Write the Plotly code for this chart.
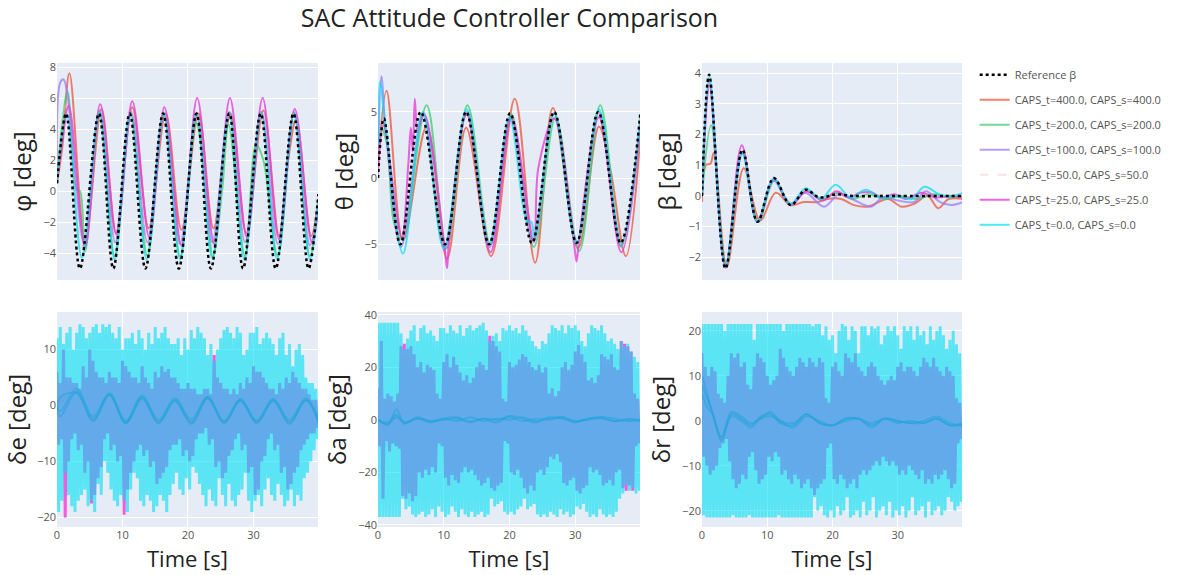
import plotly.graph_objects as go
from plotly.subplots import make_subplots

# ---------------- names / styles ----------------
keys = ["ref", "400", "200", "100", "50", "25", "0"]
names = {"ref": "Reference β",
         "400": "CAPS_t=400.0, CAPS_s=400.0",
         "200": "CAPS_t=200.0, CAPS_s=200.0",
         "100": "CAPS_t=100.0, CAPS_s=100.0",
         "50": "CAPS_t=50.0, CAPS_s=50.0",
         "25": "CAPS_t=25.0, CAPS_s=25.0",
         "0": "CAPS_t=0.0, CAPS_s=0.0"}
colors = {"ref": "#000000", "400": "#EF553B", "200": "#3CD070", "100": "#9B7CF5",
          "50": "#F2B8B8", "25": "#EA3FDA", "0": "#00E0F4"}
bottom_colors = {"400": "#3C3CAA", "200": "#3C50A0", "100": "#4A3CB4", "50": "#7070B0",
                 "25": "#F859DD", "0": "#00E0F4"}

# ---------------- top row: phi ----------------
phi_ref_t = [0, 1.4, 3.5, 6.4, 8.6, 11.1, 13.5, 16.2, 18.6, 21.3, 23.5, 26.3, 28.4, 31.1, 33.4, 36.1, 38.4, 39.9]
phi_ref_v = [0.5, 5.0, -5.0, 5.0, -5.0, 5.0, -5.0, 5.0, -5.0, 5.0, -5.0, 5.0, -5.0, 5.0, -5.0, 5.0, -5.0, -0.2]
phi_400_t = [0, 0.8, 1.9, 4.3, 6.8, 9.0, 11.5, 14.0, 16.6, 19.0, 21.6, 23.9, 26.5, 28.9, 31.5, 33.9, 35.3, 36.5, 38.8, 39.9]
phi_400_v = [0.5, 2.8, 7.6, -3.3, 5.3, -2.7, 5.4, -2.4, 5.0, -2.5, 5.0, -2.4, 5.0, -2.7, 5.2, -2.9, 2.0, 4.6, -2.9, -0.5]
phi_200_t = [0, 0.8, 1.6, 3.1, 3.5, 4.3, 6.5, 8.8, 11.3, 13.8, 16.3, 18.8, 21.2, 22.2, 23.8, 25.2, 26.2, 28.7, 30.4, 31.5, 33.7, 36.2, 38.6, 39.9]
phi_200_v = [0.7, 4.3, 6.4, 0.0, 0.0, -3.9, 5.0, -4.2, 5.0, -4.2, 5.0, -4.2, 4.4, 2.5, -4.2, 0.0, 4.3, -4.2, 3.0, 2.0, -4.2, 5.0, -4.2, -0.6]
phi_100_t = [0, 0.5, 1.0, 1.5, 4.2, 6.5, 8.9, 11.3, 13.8, 16.3, 18.8, 21.3, 23.7, 26.3, 28.7, 31.2, 33.7, 36.2, 38.6, 39.9]
phi_100_v = [0.7, 7.0, 7.2, 6.5, -3.5, 5.2, -3.3, 5.1, -3.3, 5.0, -3.4, 5.0, -3.3, 5.1, -3.3, 5.1, -3.4, 5.1, -3.5, -0.8]
phi_50_t = [0, 1.3, 4.1, 6.5, 8.9, 11.3, 13.8, 16.3, 18.8, 21.3, 23.7, 26.3, 28.7, 31.2, 33.7, 36.2, 38.6, 39.9]
phi_50_v = [0.6, 5.5, -3.8, 5.1, -3.6, 5.0, -3.6, 5.0, -3.7, 5.1, -3.6, 5.0, -3.6, 5.0, -3.7, 5.0, -3.7, -0.7]
phi_25_t = [0, 0.7, 1.8, 4.3, 6.6, 9.1, 11.5, 14.1, 16.4, 19.0, 21.4, 24.0, 26.4, 29.0, 31.4, 33.9, 36.3, 38.9, 39.9]
phi_25_v = [0.7, 2.9, 5.5, -3.6, 5.6, -2.8, 5.8, -3.0, 5.4, -3.5, 6.0, -3.4, 6.0, -3.0, 6.0, -3.1, 5.3, -3.3, -1.2]
phi_0_t = [0, 1.5, 3.8, 6.5, 8.8, 11.2, 13.7, 16.3, 18.8, 21.3, 23.7, 26.3, 28.6, 31.2, 33.6, 36.2, 38.6, 39.9]
phi_0_v = [0.7, 4.9, -4.3, 5.1, -4.4, 5.0, -4.4, 5.0, -4.4, 5.0, -4.3, 5.0, -4.4, 5.0, -4.4, 5.0, -4.4, -0.6]

# ---------------- top row: theta ----------------
th_ref_t = [0, 0.9, 3.4, 6.5, 10.2, 13.4, 16.9, 20.1, 23.4, 26.8, 30.2, 33.5, 36.9, 39.9]
th_ref_v = [0.0, 4.5, -5.0, 5.0, -5.0, 5.0, -5.0, 4.9, -4.9, 5.0, -4.9, 5.0, -4.9, 4.9]
th_400_t = [0, 1.3, 3.8, 7.4, 10.5, 13.4, 17.2, 20.8, 23.9, 26.6, 30.4, 33.6, 35.4, 37.7, 39.9]
th_400_v = [1.0, 6.6, -4.7, 3.9, -6.1, 3.8, -5.9, 6.0, -6.4, 5.3, -5.3, 3.9, 0.5, -5.9, 3.2]
th_200_t = [0, 0.5, 1.4, 2.4, 3.6, 7.4, 10.4, 13.6, 17.1, 20.3, 23.7, 27.0, 30.6, 33.8, 37.0, 39.9]
th_200_v = [2.0, 3.8, 2.5, -3.3, -4.6, 5.5, -5.3, 5.5, -5.0, 4.8, -5.2, 4.6, -5.5, 5.5, -5.2, 4.6]
th_100_t = [0, 0.5, 1.2, 3.5, 6.9, 10.1, 13.5, 17.0, 20.2, 23.6, 26.8, 30.3, 33.6, 36.9, 39.9]
th_100_v = [0.0, 7.7, 3.5, -5.2, 4.9, -5.4, 5.0, -5.2, 4.6, -4.8, 4.9, -4.8, 5.0, -5.1, 4.3]
th_50_t = [0, 0.8, 3.5, 6.8, 10.2, 13.5, 17.0, 20.2, 23.6, 26.8, 30.3, 33.6, 37.0, 39.9]
th_50_v = [0.5, 4.8, -5.0, 4.9, -5.1, 5.0, -5.1, 4.7, -4.9, 4.9, -4.9, 5.0, -5.0, 4.4]
th_25_t = [0, 0.8, 3.6, 4.6, 5.0, 5.3, 5.6, 6.0, 6.6, 7.1, 10.2, 10.5, 10.8, 13.5, 17.1, 20.3, 23.7, 24.4, 26.8, 29.9, 30.2, 30.6, 33.6, 37.0, 39.9]
th_25_v = [0.5, 4.0, -4.5, 1.0, 3.8, 2.0, 6.0, 3.5, 4.5, 4.8, -5.5, -6.8, -4.8, 4.8, -5.6, 4.5, -4.8, 0.8, 4.5, -5.3, -6.3, -4.6, 4.6, -5.6, 4.0]
th_0_t = [0, 0.3, 1.1, 3.8, 6.8, 10.0, 13.5, 16.9, 20.0, 22.7, 23.3, 23.8, 26.8, 30.2, 33.6, 37.0, 39.9]
th_0_v = [2.5, 7.3, 4.0, -5.7, 5.0, -5.3, 5.2, -5.0, 4.6, -3.3, -3.3, -4.5, 4.9, -4.9, 5.2, -4.9, 4.2]

# ---------------- top row: beta ----------------
be_ref_t = [0, 1.1, 3.6, 6.2, 8.5, 11.0, 13.6, 15.9, 18.0, 20.5, 23.0, 30.0, 40.0]
be_ref_v = [0.0, 3.95, -2.36, 1.5, -0.84, 0.58, -0.3, 0.2, -0.05, 0.05, 0.0, 0.0, 0.0]
be_400_t = [0, 0.6, 1.3, 1.8, 3.8, 6.4, 8.9, 11.3, 13.6, 15.6, 17.7, 19.2, 21.3, 23.3, 25.4, 28.5, 30.6, 32.6, 34.6, 36.2, 37.8, 40]
be_400_v = [-0.2, 1.0, 1.05, 1.4, -2.3, 0.9, -0.8, 0.1, -0.3, -0.2, -0.2, -0.1, -0.1, -0.3, -0.35, -0.1, -0.35, -0.25, 0.0, -0.4, -0.1, -0.1]
be_200_t = [0, 1.4, 3.7, 6.2, 8.6, 11.1, 13.6, 16.0, 18.4, 20.8, 23.0, 25.4, 28.0, 30.5, 33.0, 35.5, 38.0, 40]
be_200_v = [0.0, 2.3, -2.3, 1.45, -0.85, 0.5, -0.25, 0.15, -0.1, 0.1, -0.1, 0.05, -0.1, 0.0, -0.1, 0.05, -0.05, 0.0]
be_100_t = [0, 1.1, 3.6, 6.2, 8.5, 11.0, 13.5, 15.8, 18.7, 21.0, 23.0, 25.9, 27.7, 30.0, 32.5, 34.3, 36.5, 38.2, 40]
be_100_v = [0.0, 3.7, -2.3, 1.4, -0.85, 0.5, -0.3, 0.1, -0.35, 0.05, -0.1, -0.35, -0.05, -0.15, -0.2, 0.15, -0.2, -0.3, -0.2]
be_50_t = [0, 1.1, 3.6, 6.2, 8.5, 11.0, 13.6, 16.0, 18.5, 21.0, 24.0, 28.0, 32.0, 36.0, 40]
be_50_v = [0.0, 3.8, -2.3, 1.45, -0.85, 0.55, -0.3, 0.15, -0.1, 0.05, -0.05, 0.05, -0.05, 0.0, 0.0]
be_25_t = [0, 1.2, 3.6, 6.1, 8.5, 11.0, 13.6, 16.0, 18.5, 20.6, 22.5, 24.2, 25.9, 27.5, 29.5, 31.2, 33.6, 35.8, 38.0, 40]
be_25_v = [0.0, 3.6, -2.35, 1.65, -0.85, 0.55, -0.3, 0.15, -0.15, 0.15, -0.05, 0.1, 0.12, -0.05, 0.05, -0.1, 0.1, -0.05, 0.0, -0.05]
be_0_t = [0, 1.13, 3.59, 6.15, 8.46, 11.0, 13.5, 15.9, 18.2, 20.5, 22.8, 25.1, 27.4, 29.7, 32.1, 34.1, 36.4, 38.2, 40]
be_0_v = [0.0, 3.9, -2.3, 1.4, -0.85, 0.55, -0.28, 0.25, -0.1, 0.36, -0.05, 0.2, -0.05, 0.0, -0.1, 0.3, 0.05, 0.0, 0.1]

# ---------------- bottom row: envelopes of the noisy actuator signals (every 0.5 s) ----------------
ENV_STEP = 0.5
de_0_hi = [12, 14, 11, 13, 14, 10, 13, 14.5, 14, 12,
           13, 14, 14.5, 13, 14.5, 14, 14.5, 13, 12, 14,
           10, 12, 12, 13, 11, 13.5, 12, 10, 13, 11,
           14, 12, 13, 14, 12, 11, 11, 12, 9, 12,
           10, 13.5, 12, 14, 13, 12, 9, 11, 8, 10,
           12, 13.5, 14, 13, 12, 14, 13, 9, 10, 13,
           13, 14, 11, 12, 13, 12, 11, 9, 12, 13,
           9, 11, 7, 10, 11, 9, 5, 4, 4, 3]
de_0_lo = [-19, -17, -12, -16, -18, -19, -17, -16, -15, -18,
           -17, -19, -14, -16, -10, -12, -15, -17, -18, -16,
           -17, -19, -15, -12, -13, -17, -18, -16, -17, -19,
           -18, -16, -17, -19, -16, -14, -12, -15, -16, -13,
           -15, -11, -12, -14, -16, -18, -15, -17, -18, -13,
           -16, -18, -14, -17, -18, -16, -15, -12, -17, -19,
           -17, -16, -18, -15, -13, -16, -17, -14, -16, -18,
           -17, -15, -18, -16, -17, -13, -12, -10, -8, -6]
de_25_hi = [6, 4, 10, 5, 5, 4, 4, 3, 7, 5,
            10, 8, 6, 5, 5, 4, 6, 5, 5, 4,
            8, 7, 6, 5, 5, 4, 7, 5, 4, 3,
            6, 5, 7, 6, 6.5, 5, 5, 4, 3, 3,
            4, 3, 3, 2, 2, 3, 3, 2, 9, 5,
            4, 3, 3, 2, 3, 2, 4, 3, 5, 4,
            7, 6, 6, 5, 4, 3, 3, 2, 4, 3,
            5, 4, 6, 5, 4, 3, 3, 2, 1, 1]
de_25_lo = [-7, -6, -20, -10, -6, -5, -8, -7, -12, -10,
            -17.5, -16, -13, -11, -6, -5, -8, -7, -10, -9,
            -19.5, -15, -12, -10, -8, -7, -9, -8, -11, -10,
            -14, -13, -12, -11, -8, -7, -7, -6, -9, -8,
            -10, -9, -6, -5, -5, -4, -7, -6, -11, -10,
            -13, -12, -9, -8, -6, -5, -8, -7, -12, -11,
            -16, -15, -10, -9, -6, -5, -8, -7, -12, -11,
            -15, -14, -12, -11, -8, -7, -6, -5, -5, -4]

da_0_hi = [37, 37, 37, 37, 37, 37, 37, 33, 27, 31,
           34, 36, 30, 35, 36, 33, 34, 32, 30, 35,
           35, 33, 36, 34, 33, 36, 32, 35, 36, 34,
           35, 36, 37, 34, 30, 32, 33, 30, 35, 34,
           36, 34, 35, 33, 36, 34, 32, 30, 28, 27,
           30, 29, 33, 36, 35, 34, 36, 33, 36, 35,
           36, 34, 30, 28, 33, 36, 35, 34, 36, 33,
           30, 31, 29, 27, 30, 28, 29, 26, 24, 22]
da_0_lo = [-37, -37, -37, -37, -37, -37, -37, -30, -34, -33,
           -36, -37, -36, -35, -37, -36, -34, -37, -33, -35,
           -37, -36, -33, -35, -37, -34, -36, -37, -35, -37,
           -36, -35, -37, -36, -30, -33, -32, -31, -35, -36,
           -35, -36, -34, -33, -30, -34, -33, -32, -36, -37,
           -36, -37, -35, -36, -37, -34, -36, -35, -37, -36,
           -33, -34, -32, -35, -37, -36, -37, -34, -36, -37,
           -36, -37, -35, -30, -28, -25, -27, -26, -28, -27]
da_25_hi = [12, 30, 8, 10, 9, 7, 10, 28, 29, 27,
            28, 25, 20, 22, 18, 21, 20, 19, 10, 8,
            22, 25, 20, 24, 21, 18, 15, 17, 14, 16,
            20, 22, 21, 19, 32, 30, 28, 26, 8, 7,
            22, 20, 21, 23, 25, 24, 22, 20, 19, 21,
            18, 20, 10, 12, 9, 11, 20, 22, 19, 21,
            26, 28.5, 25, 22, 15, 16, 14, 17, 25, 24,
            23, 25, 20, 19, 30, 29, 28, 26, 10, 8]
da_25_lo = [-10, -30, -8, -12, -9, -10, -11, -29, -30, -28,
            -31, -29, -20, -22, -19, -21, -18, -20, -9, -10,
            -22, -25, -21, -23, -24, -20, -18, -20, -19, -21,
            -23, -25, -24, -22, -26, -27, -25, -24, -8, -9,
            -20, -21, -19, -22, -26, -28, -25, -27, -20, -19,
            -21, -18, -14, -15, -13, -16, -24, -25, -23, -22,
            -27, -28, -26, -25, -18, -20, -19, -21, -25, -24,
            -23, -25, -20, -19, -26, -27, -25, -27, -10, -9]

dr_0_hi = [21.5, 21.5, 21.5, 21.5, 21.5, 21.5, 21.5, 20, 21.5, 21.5,
           21.5, 21.5, 21.5, 21.5, 21.5, 21.5, 18, 21.5, 21.5, 21.5,
           21.5, 21.5, 21.5, 21.5, 21.5, 20, 21.5, 21.5, 21.5, 21.5,
           21.5, 21.5, 21.5, 21.5, 21, 21.5, 21.5, 19, 21, 18,
           19, 15, 20, 21.5, 21, 18, 21, 20, 15, 21,
           21, 19, 21, 20.5, 21, 17, 19, 21, 20, 21,
           19, 16, 21, 20, 21, 18, 21, 19, 20, 17,
           21, 18, 20, 21, 19, 16, 18, 20, 17, 15]
dr_0_lo = [-21, -21.5, -21.5, -21.5, -21.5, -21.5, -21.5, -21.5, -21.5, -21,
           -21.5, -21.5, -21.5, -21.5, -21, -21.5, -21.5, -21.5, -21.5, -21.5,
           -21.5, -21.5, -21.5, -21, -21.5, -21.5, -21.5, -21.5, -21.5, -21.5,
           -21.5, -21.5, -21.5, -21.5, -17, -20, -19, -21, -21.5, -20,
           -21.5, -19, -21, -20, -17, -21.5, -21, -20, -21.5, -18,
           -21, -20, -17, -21.5, -20, -19, -21, -18, -21.5, -20,
           -21, -19, -21.5, -20, -17, -21, -20, -19, -21.5, -18,
           -21, -20, -19, -21, -20, -17, -18, -20, -19, -18]
dr_25_hi = [15, 12, 10, 12, 11, 6, 5, 4, 10, 15,
            14, 15, 12, 13, 8, 7, 12, 15, 14, 13,
            10, 8, 9, 10, 16, 14, 12, 11, 10, 12,
            14, 13, 12, 14, 13, 12, 14, 13, 5, 4,
            12, 13, 11, 10, 15, 14, 13, 15, 12, 11,
            10, 12, 13, 12, 10, 9, 8, 9, 10, 9,
            12, 13, 11, 12, 12, 11, 10, 12, 14, 13,
            12, 14, 12, 11, 10, 12, 11, 10, 5, 4]
dr_25_lo = [-8, -10, -12, -11, -10, -6, -5, -4, -9, -13,
            -15, -14, -12, -13, -8, -7, -11, -14, -13, -12,
            -8, -9, -7, -8, -12, -11, -13, -14, -12, -13,
            -15, -14, -13, -15, -16.5, -15, -14, -13, -6, -5,
            -13, -14, -12, -13, -15, -14, -13, -15, -12, -11,
            -12, -11, -10, -9, -10, -8, -9, -10, -9, -10,
            -12, -11, -12, -10, -11, -12, -13, -11, -14, -13,
            -14, -12, -13, -12, -11, -13, -15, -14, -5, -4]

# smooth (low-noise) actuator traces
de_s_t = [0, 0.5, 3, 5.5, 8, 10.5, 13, 15.5, 18, 20.5, 23, 25.5, 28, 30.5, 33, 35.5, 38, 40]
de_400_v = [0, -2, 2.5, -2.5, 2.0, -3.0, 1.5, -3.0, 1.0, -3.0, 1.5, -3.0, 1.0, -3.0, 1.0, -3.0, 1.0, -3.0]
de_200_v = [0, -1, 3.0, -2.0, 2.2, -2.8, 1.8, -2.6, 1.3, -2.5, 1.6, -2.8, 1.2, -2.7, 1.2, -2.6, 1.3, -2.5]
de_100_v = [-1, 1.5, 2.2, -2.8, 1.8, -3.2, 1.2, -3.2, 0.8, -3.3, 1.2, -3.2, 0.8, -3.2, 0.8, -3.3, 0.9, -3.3]
de_50_v = [0, 1, 2.0, -2.0, 1.8, -2.5, 1.5, -2.5, 1.0, -2.5, 1.2, -2.5, 1.0, -2.5, 1.0, -2.5, 1.0, -2.5]
da_s_t = [0, 1.5, 2.8, 4, 6, 8, 10, 12, 14, 16, 18, 20, 22, 24, 26, 28, 30, 32, 34, 36, 38, 40]
da_400_v = [0, -1.5, 1, -1, 0.5, -1, 0.5, 1, -0.5, 0.5, -1, 1.5, 0.5, -1, 1, 0.5, -1, 0.5, 1, -0.5, 0.5, 0]
da_200_v = [0, -2, 4, -1, 0.5, -0.5, 0.5, -0.5, 1, -0.5, 0.5, 0, 1, -0.5, 0.5, 1, -0.5, 0, 1, 0.5, -0.5, 0]
da_100_v = [0, -1, 2, -1.5, 1, -0.5, 0, 0.5, -1, 0.5, 0, 1, -0.5, 0.5, 0, 1, -0.5, 0.5, 0.5, -0.5, 0, -0.5]
da_50_v = [0, -1, 1.5, -1, 0.5, -0.5, 0.5, 0.5, -0.5, 0.5, -0.5, 1, 0.5, -0.5, 0.5, 0.5, -0.5, 0.5, 0.5, 0, 0, 0]
dr_s_t = [0, 0.8, 1.6, 3.0, 4.5, 6, 7.5, 9, 10.5, 12, 14, 16, 18, 20, 22, 24, 26, 28, 30, 32, 34, 36, 38, 40]
dr_400_v = [8, 5, 2, -4.5, 1.5, 0.5, -1, 1, 1.5, -0.5, -1, 1.5, -0.5, -1, 0, 0.5, -1, 0.5, -0.5, 0, -0.5, 0.5, -1, -0.5]
dr_200_v = [6, 3, 1.5, -4, 1.0, 0, -1.5, 0.5, 1, 0, -1.5, 1, 0, -1, 0.5, 0.5, -0.5, 0.5, 0, -0.5, 0, 1, -0.5, -1]
dr_100_v = [10, 6, 1.5, -3.5, 2, 1, -0.5, 0.5, 2, 0, -0.5, 1.5, -0.5, -1, 0.5, 0.5, -1.5, 0.5, 0, -0.5, -0.5, 0.5, -1, -1]
dr_50_v = [7, 4, 1.5, -4, 1.5, 0.5, -1, 1, 1.5, -0.5, -1, 1.5, -0.5, -1, 0, 0.5, -1, 0.5, -0.5, 0, -0.5, 0.5, -1, -0.5]

# ---------------- figure ----------------
fig = make_subplots(rows=2, cols=3)

def zigzag(hi, lo):
    t, v = [], []
    for k, (h, l) in enumerate(zip(hi, lo)):
        t += [k * ENV_STEP, k * ENV_STEP + ENV_STEP / 2]
        v += [h, l]
    return t, v

top_op = {"400": 0.75, "200": 0.75, "100": 0.75, "50": 0.4, "25": 0.8, "0": 0.7}
legend_done = set()

def add(row, col, key, t, v, opacity, width=2, shape="spline", dash=None, legend_ok=False, color=None):
    show = legend_ok and key not in legend_done
    if show:
        legend_done.add(key)
    fig.add_trace(go.Scatter(
        x=t, y=v, mode="lines", name=names[key], legendgroup=key, showlegend=show,
        legendrank=keys.index(key) + 1, opacity=opacity,
        line=dict(color=color or colors[key], width=width, shape=shape, smoothing=1.0, simplify=False,
                  dash=dash if dash else ("dot" if key == "ref" else ("dash" if key == "50" else "solid"))),
        hoverinfo="skip"), row=row, col=col)

top = {
    1: {"400": (phi_400_t, phi_400_v), "200": (phi_200_t, phi_200_v), "100": (phi_100_t, phi_100_v),
        "50": (phi_50_t, phi_50_v), "25": (phi_25_t, phi_25_v), "0": (phi_0_t, phi_0_v),
        "ref": (phi_ref_t, phi_ref_v)},
    2: {"400": (th_400_t, th_400_v), "200": (th_200_t, th_200_v), "100": (th_100_t, th_100_v),
        "50": (th_50_t, th_50_v), "25": (th_25_t, th_25_v), "0": (th_0_t, th_0_v),
        "ref": (th_ref_t, th_ref_v)},
    3: {"400": (be_400_t, be_400_v), "200": (be_200_t, be_200_v), "100": (be_100_t, be_100_v),
        "50": (be_50_t, be_50_v), "25": (be_25_t, be_25_v), "0": (be_0_t, be_0_v),
        "ref": (be_ref_t, be_ref_v)},
}
for col in (1, 2, 3):
    for key in ["400", "200", "100", "50", "25", "0"]:
        t, v = top[col][key]
        add(1, col, key, t, v, top_op[key], legend_ok=(col == 1))
    t, v = top[col]["ref"]
    add(1, col, "ref", t, v, 1.0, width=2.5, legend_ok=(col == 3))

bottom = {
    1: (de_s_t, {"400": de_400_v, "200": de_200_v, "100": de_100_v, "50": de_50_v},
        (de_25_hi, de_25_lo), (de_0_hi, de_0_lo)),
    2: (da_s_t, {"400": da_400_v, "200": da_200_v, "100": da_100_v, "50": da_50_v},
        (da_25_hi, da_25_lo), (da_0_hi, da_0_lo)),
    3: (dr_s_t, {"400": dr_400_v, "200": dr_200_v, "100": dr_100_v, "50": dr_50_v},
        (dr_25_hi, dr_25_lo), (dr_0_hi, dr_0_lo)),
}
for col in (1, 2, 3):
    st, smooth, env25, env0 = bottom[col]
    t, v = zigzag(*env25)
    add(2, col, "25", t, v, 1.0, width=3, shape="linear", dash="solid", color=bottom_colors["25"])
    for key in ["400", "200", "100", "50"]:
        add(2, col, key, st, smooth[key], 0.45 if key != "50" else 0.2, width=1.8,
            dash="solid", color=bottom_colors[key])
    t, v = zigzag(*env0)
    add(2, col, "0", t, v, 0.6, width=3, shape="linear", dash="solid", color=bottom_colors["0"])

# ---------------- layout ----------------
xdom = [[0, 0.2884], [0.3547, 0.6442], [0.7127, 1.0]]
ytop, ybot = [0.5323, 1.0], [0, 0.4634]
y_titles = ["φ [deg]", "θ [deg]", "β [deg]", "δe [deg]", "δa [deg]", "δr [deg]"]
y_ranges = [[-5.74, 8.26], [-7.7, 8.7], [-2.74, 4.33], [-21.7, 16.7], [-40.8, 41.1], [-23.6, 24.2]]
y_dticks = [2, 5, 1, 10, 20, 10]

tickfont = dict(size=11, color="#555")
for i in range(6):
    n = "" if i == 0 else str(i + 1)
    row_top = i < 3
    fig.layout["xaxis" + n].update(
        domain=xdom[i % 3], range=[0, 39.85], dtick=10, tick0=0,
        showticklabels=not row_top, tickfont=tickfont, automargin=False,
        gridcolor="white", zeroline=False,
        title=None if row_top else dict(text="Time [s]", font=dict(size=22, color="#222"), standoff=10))
    fig.layout["yaxis" + n].update(
        domain=ytop if row_top else ybot, range=y_ranges[i], dtick=y_dticks[i],
        tickfont=tickfont, automargin=False, gridcolor="white",
        zerolinecolor="white", zerolinewidth=1,
        title=dict(text=y_titles[i], font=dict(size=24, color="#222"), standoff=4))

fig.update_layout(
    width=1191, height=575, template="plotly",
    margin=dict(l=57, r=229, t=63, b=48),
    paper_bgcolor="white", plot_bgcolor="#E5ECF6",
    font=dict(family="Open Sans, verdana, arial, sans-serif"),
    title=dict(text="SAC Attitude Controller Comparison", x=0.5, xref="paper", xanchor="center",
               y=0.968, yref="container", yanchor="middle", font=dict(size=25, color="#222")),
    legend=dict(x=1.014, y=1.006, xanchor="left", yanchor="top", tracegroupgap=6,
                font=dict(size=11, color="#555"), bgcolor="rgba(0,0,0,0)"),
    showlegend=True,
)

fig.write_html("out.html")
